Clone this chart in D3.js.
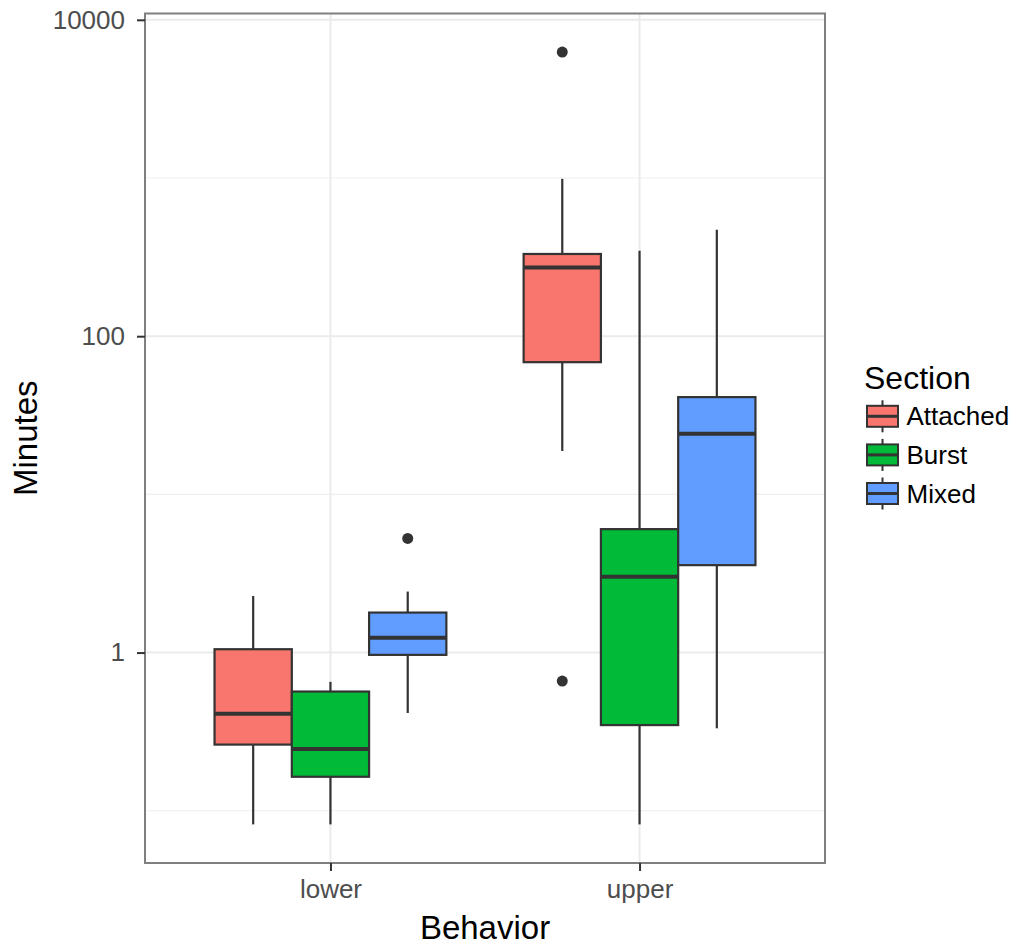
<!DOCTYPE html>
<html>
<head>
<meta charset="utf-8">
<script src="https://cdn.jsdelivr.net/npm/d3@7"></script>
<style>
  html, body { margin: 0; padding: 0; background: #fff; }
  svg { display: block; font-family: "Liberation Sans", Arial, sans-serif; }
</style>
</head>
<body>
<svg id="chart" width="1016" height="945"></svg>
<script>
// Behaviour groups on the x axis and the fill sections
const behaviors = ["lower", "upper"];
const sections = ["Attached", "Burst", "Mixed"];
const sectionColors = ["#F8766D", "#00BA38", "#619CFF"];

// Box summaries per behaviour: [lower whisker, Q1, median, Q3, upper whisker]
const lowerStats = [
  [0.082, 0.262, 0.41, 1.05, 2.28],   // Attached
  [0.082, 0.164, 0.246, 0.567, 0.653], // Burst
  [0.415, 0.967, 1.24, 1.79, 2.43]    // Mixed
];
const upperStats = [
  [18.8, 68.5, 272, 331, 988],        // Attached
  [0.082, 0.348, 3.02, 6.03, 347],    // Burst
  [0.332, 3.57, 24.2, 41.2, 471]      // Mixed
];
// Outlying observations per behaviour, by section
const lowerOutliers = [[], [], [5.27]];
const upperOutliers = [[6250, 0.66], [], []];

// Y axis ticks
const majorTicks = [1, 100, 10000];
const minorTicks = [0.1, 10, 1000];

const boxes = [];
[[lowerStats, lowerOutliers], [upperStats, upperOutliers]].forEach(([stats, outs], bi) => {
  stats.forEach((s, si) => {
    boxes.push({behavior: behaviors[bi], section: sections[si], si,
      lo: s[0], q1: s[1], med: s[2], q3: s[3], hi: s[4], outliers: outs[si]});
  });
});

const svg = d3.select("#chart");
const panel = {left: 145, right: 825, top: 13.5, bottom: 863};

// Log scale expanded by 5% of the data span on each side
const allVals = boxes.flatMap(b => [b.lo, b.hi, ...b.outliers]);
const lmin = Math.log10(d3.min(allVals)), lmax = Math.log10(d3.max(allVals));
const pad = (lmax - lmin) * 0.05;
const y = d3.scaleLog()
  .domain([Math.pow(10, lmin - pad), Math.pow(10, lmax + pad)])
  .range([panel.bottom, panel.top]);

const x = d3.scalePoint().domain(behaviors)
  .range([panel.left, panel.right]).padding(0.6);
const step = x.step();
const boxW = step * 0.25;
const dodge = d3.scaleLinear().domain([0, 2]).range([-step * 0.25, step * 0.25]);
const color = d3.scaleOrdinal().domain(sections).range(sectionColors);

// Grid
const g = svg.append("g");
g.selectAll("line.minor").data(minorTicks).join("line")
  .attr("x1", panel.left).attr("x2", panel.right)
  .attr("y1", d => y(d)).attr("y2", d => y(d))
  .attr("stroke", "#EFEFEF").attr("stroke-width", 1.2);
g.selectAll("line.majory").data(majorTicks).join("line")
  .attr("x1", panel.left).attr("x2", panel.right)
  .attr("y1", d => y(d)).attr("y2", d => y(d))
  .attr("stroke", "#EBEBEB").attr("stroke-width", 2);
g.selectAll("line.majorx").data(behaviors).join("line")
  .attr("x1", d => x(d)).attr("x2", d => x(d))
  .attr("y1", panel.top).attr("y2", panel.bottom)
  .attr("stroke", "#EBEBEB").attr("stroke-width", 2);

// Boxplots
const bg = svg.append("g").selectAll("g").data(boxes).join("g")
  .attr("transform", d => `translate(${x(d.behavior) + dodge(d.si)},0)`);
bg.append("line").attr("x1", 0).attr("x2", 0)
  .attr("y1", d => y(d.hi)).attr("y2", d => y(d.q3))
  .attr("stroke", "#333").attr("stroke-width", 2.2);
bg.append("line").attr("x1", 0).attr("x2", 0)
  .attr("y1", d => y(d.q1)).attr("y2", d => y(d.lo))
  .attr("stroke", "#333").attr("stroke-width", 2.2);
bg.append("rect")
  .attr("x", -boxW / 2).attr("width", boxW)
  .attr("y", d => y(d.q3)).attr("height", d => y(d.q1) - y(d.q3))
  .attr("fill", d => color(d.section))
  .attr("stroke", "#333").attr("stroke-width", 2.2);
bg.append("line").attr("x1", -boxW / 2).attr("x2", boxW / 2)
  .attr("y1", d => y(d.med)).attr("y2", d => y(d.med))
  .attr("stroke", "#333").attr("stroke-width", 4);
bg.selectAll("circle").data(d => d.outliers).join("circle")
  .attr("cx", 0).attr("cy", d => y(d)).attr("r", 5.5).attr("fill", "#333");

// Panel border
svg.append("rect")
  .attr("x", panel.left).attr("y", panel.top)
  .attr("width", panel.right - panel.left).attr("height", panel.bottom - panel.top)
  .attr("fill", "none").attr("stroke", "#7F7F7F").attr("stroke-width", 2);

// Y axis
const yAxis = svg.append("g")
  .attr("transform", `translate(${panel.left},0)`)
  .call(d3.axisLeft(y).tickValues(majorTicks).tickFormat(d3.format("d"))
    .tickSizeInner(8).tickSizeOuter(0).tickPadding(12));
yAxis.select(".domain").remove();
yAxis.selectAll(".tick line").attr("stroke", "#333").attr("stroke-width", 2);
yAxis.selectAll(".tick text").attr("fill", "#4D4D4D")
  .style("font-size", "26px").style("font-family", "'Liberation Sans', Arial, sans-serif");

// X axis
const xAxis = svg.append("g")
  .attr("transform", `translate(0,${panel.bottom})`)
  .call(d3.axisBottom(x).tickSizeInner(8).tickSizeOuter(0).tickPadding(9));
xAxis.select(".domain").remove();
xAxis.selectAll(".tick line").attr("stroke", "#333").attr("stroke-width", 2);
xAxis.selectAll(".tick text").attr("fill", "#4D4D4D")
  .style("font-size", "26px").style("font-family", "'Liberation Sans', Arial, sans-serif");

// Axis titles
svg.append("text")
  .attr("x", (panel.left + panel.right) / 2).attr("y", 939)
  .attr("text-anchor", "middle").attr("fill", "#000")
  .style("font-size", "33px").text("Behavior");
svg.append("text")
  .attr("transform", `translate(37,${(panel.top + panel.bottom) / 2}) rotate(-90)`)
  .attr("text-anchor", "middle").attr("fill", "#000")
  .style("font-size", "33px").text("Minutes");

// Legend
const legend = svg.append("g").attr("transform", "translate(864,0)");
legend.append("text").attr("x", 0).attr("y", 389)
  .attr("fill", "#000").style("font-size", "32px").text("Section");
const rows = legend.selectAll("g.row").data(sections).join("g")
  .attr("transform", (d, i) => `translate(18.5,${416.3 + i * 38.6})`);
rows.append("line").attr("x1", 0).attr("x2", 0).attr("y1", -16).attr("y2", 16)
  .attr("stroke", "#333").attr("stroke-width", 2);
rows.append("rect").attr("x", -15.5).attr("y", -10.5).attr("width", 31).attr("height", 21)
  .attr("fill", d => color(d)).attr("stroke", "#333").attr("stroke-width", 2);
rows.append("line").attr("x1", -15.5).attr("x2", 15.5).attr("y1", 0).attr("y2", 0)
  .attr("stroke", "#333").attr("stroke-width", 3);
rows.append("text").attr("x", 24).attr("y", 0).attr("dy", "0.35em")
  .attr("fill", "#000").style("font-size", "26px").text(d => d);
</script>
</body>
</html>
